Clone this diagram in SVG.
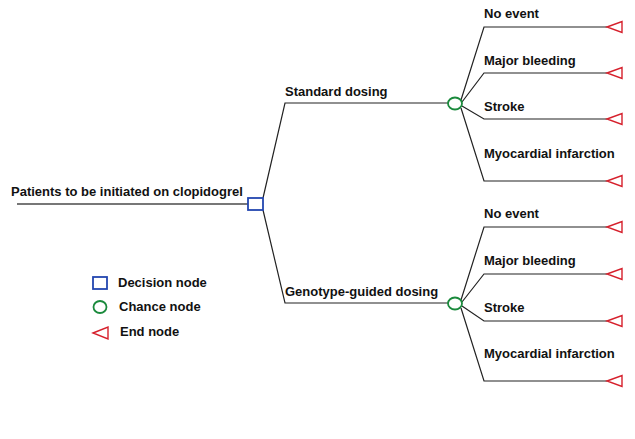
<svg xmlns="http://www.w3.org/2000/svg" width="635" height="439" viewBox="0 0 635 439">
<style>
text{font-family:"Liberation Sans",Arial,sans-serif;font-weight:bold;font-size:13px;fill:#111}
.ln{fill:none;stroke:#222;stroke-width:1.2}
.dec{fill:#fff;stroke:#2346b0;stroke-width:1.8}
.ch{fill:#fff;stroke:#1a8a3c;stroke-width:1.8}
.end{fill:#fff;stroke:#d6202c;stroke-width:1.4}
</style>
<rect width="635" height="439" fill="#fff"/>
<g id="connectors">
<line x1="17" y1="204" x2="248" y2="204" stroke="#777" stroke-width="2"/>
<polyline class="ln" points="263,198 285,103 448,103"/>
<polyline class="ln" points="263,210 285,303 448,303"/>
<polyline class="ln" points="461,100 484,27 607,27"/>
<polyline class="ln" points="462,102 484,73 607,73"/>
<polyline class="ln" points="462,106 484,119 607,119"/>
<polyline class="ln" points="461,108 484,181 607,181"/>
<polyline class="ln" points="461,300 484,227 607,227"/>
<polyline class="ln" points="462,302 484,274 607,274"/>
<polyline class="ln" points="462,306 484,321 607,321"/>
<polyline class="ln" points="461,308 484,381 607,381"/>
</g>
<g id="root"><text x="11" y="196">Patients to be initiated on clopidogrel</text></g>
<g id="decision"><rect class="dec" x="248" y="198" width="15" height="12"/></g>
<g id="standard"><text x="285" y="96">Standard dosing</text><ellipse class="ch" cx="455" cy="103.5" rx="7" ry="6"/></g>
<g id="genotype"><text x="285" y="296">Genotype-guided dosing</text><ellipse class="ch" cx="455" cy="303.5" rx="7" ry="6"/></g>
<g id="s-noevent"><text x="484" y="18">No event</text><polygon class="end" points="607,27 622,21.5 622,32.5"/></g>
<g id="s-bleeding"><text x="484" y="65">Major bleeding</text><polygon class="end" points="607,73 622,67.5 622,78.5"/></g>
<g id="s-stroke"><text x="484" y="111">Stroke</text><polygon class="end" points="607,119 622,113.5 622,124.5"/></g>
<g id="s-mi"><text x="484" y="158">Myocardial infarction</text><polygon class="end" points="607,181 622,175.5 622,186.5"/></g>
<g id="g-noevent"><text x="484" y="218">No event</text><polygon class="end" points="607,227 622,221.5 622,232.5"/></g>
<g id="g-bleeding"><text x="484" y="265">Major bleeding</text><polygon class="end" points="607,274 622,268.5 622,279.5"/></g>
<g id="g-stroke"><text x="484" y="312">Stroke</text><polygon class="end" points="607,321 622,315.5 622,326.5"/></g>
<g id="g-mi"><text x="484" y="358">Myocardial infarction</text><polygon class="end" points="607,381 622,375.5 622,386.5"/></g>
<g id="legend">
<rect class="dec" x="93" y="277" width="14" height="12"/>
<text x="118" y="287">Decision node</text>
<ellipse class="ch" cx="100" cy="307" rx="6.5" ry="6"/>
<text x="119" y="311">Chance node</text>
<polygon class="end" points="93,333 108,327 108,339"/>
<text x="120" y="336">End node</text>
</g>
</svg>
